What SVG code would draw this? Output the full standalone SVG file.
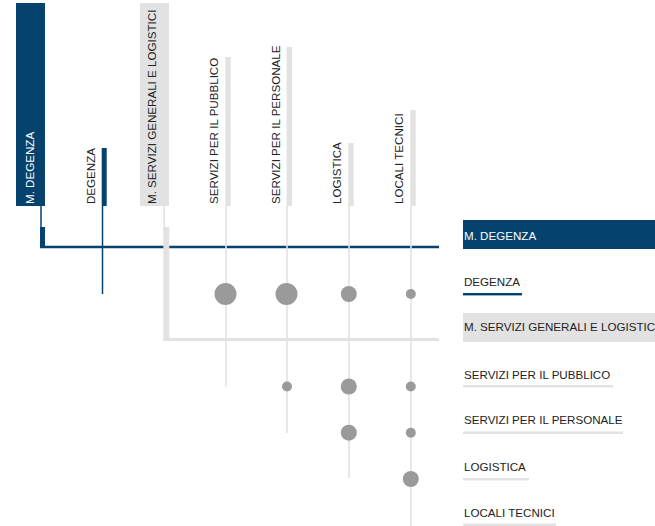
<svg xmlns="http://www.w3.org/2000/svg" width="655" height="526" viewBox="0 0 655 526">
<style>
text{font-family:"Liberation Sans",Arial,sans-serif;font-size:11.6px;fill:#222}
.w{fill:#fff}
.blue{fill:#06426e}
.gbar{fill:#e2e2e2}
.gl{stroke:#e2e2e2;fill:none}
.bl{stroke:#06426e;fill:none}
.dot{fill:#9a9a9a}
</style>
<rect width="655" height="526" fill="#fff"/>
<g id="connectors">
<!-- M. DEGENZA -->
<line class="bl" x1="41" y1="206" x2="41" y2="228" stroke-width="1.5"/>
<rect class="blue" x="40" y="227" width="5" height="20"/>
<line class="bl" x1="40" y1="247" x2="439" y2="247" stroke-width="2.6"/>
<!-- DEGENZA -->
<line class="bl" x1="102.5" y1="206" x2="102.5" y2="294" stroke-width="1.5"/>
<!-- M. SERVIZI -->
<line class="gl" x1="164.2" y1="206" x2="164.2" y2="228" stroke-width="1.5"/>
<rect class="gbar" x="163.3" y="227" width="6" height="113"/>
<line class="gl" x1="163.3" y1="339.5" x2="439" y2="339.5" stroke-width="3"/>
<!-- child columns -->
<line class="gl" x1="226" y1="206" x2="226" y2="387" stroke-width="1.6"/>
<line class="gl" x1="287" y1="206" x2="287" y2="433" stroke-width="1.6"/>
<line class="gl" x1="349" y1="206" x2="349" y2="478" stroke-width="1.6"/>
<line class="gl" x1="411" y1="206" x2="411" y2="526" stroke-width="1.6"/>
</g>
<g id="col-m-degenza">
<rect class="blue" x="16" y="3" width="29" height="203"/>
<text class="w" transform="translate(33.5,204) rotate(-90)">M. DEGENZA</text>
</g>
<g id="col-degenza">
<rect class="blue" x="101.7" y="148" width="5" height="58"/>
<text transform="translate(94.5,204) rotate(-90)">DEGENZA</text>
</g>
<g id="col-m-servizi">
<rect class="gbar" x="140" y="3" width="29" height="203"/>
<text transform="translate(156,204) rotate(-90)">M. SERVIZI GENERALI E LOGISTICI</text>
</g>
<g id="col-pubblico">
<rect class="gbar" x="225.3" y="57" width="5.4" height="149"/>
<text transform="translate(217.8,204) rotate(-90)">SERVIZI PER IL PUBBLICO</text>
</g>
<g id="col-personale">
<rect class="gbar" x="286.6" y="47" width="5.4" height="159"/>
<text transform="translate(279.5,204) rotate(-90)">SERVIZI PER IL PERSONALE</text>
</g>
<g id="col-logistica">
<rect class="gbar" x="348.3" y="143" width="5.4" height="63"/>
<text transform="translate(341,204) rotate(-90)">LOGISTICA</text>
</g>
<g id="col-locali">
<rect class="gbar" x="410.3" y="110" width="5.4" height="96"/>
<text transform="translate(402.8,204) rotate(-90)">LOCALI TECNICI</text>
</g>
<g id="row-m-degenza">
<rect class="blue" x="463" y="220" width="192" height="29"/>
<text class="w" x="464" y="239.5">M. DEGENZA</text>
</g>
<g id="row-degenza">
<text x="464" y="285.5">DEGENZA</text>
<rect class="blue" x="463" y="293" width="59" height="2.4"/>
</g>
<g id="row-m-servizi">
<rect class="gbar" x="463" y="313" width="192" height="29"/>
<text x="464" y="331">M. SERVIZI GENERALI E LOGISTICI</text>
</g>
<g id="row-pubblico">
<text x="464" y="378.5">SERVIZI PER IL PUBBLICO</text>
<rect class="gbar" x="463" y="385" width="150" height="2.4"/>
</g>
<g id="row-personale">
<text x="464" y="424">SERVIZI PER IL PERSONALE</text>
<rect class="gbar" x="463" y="431.5" width="160" height="2.4"/>
</g>
<g id="row-logistica">
<text x="464" y="470.7">LOGISTICA</text>
<rect class="gbar" x="463" y="478" width="66" height="2.4"/>
</g>
<g id="row-locali">
<text x="464" y="517">LOCALI TECNICI</text>
<rect class="gbar" x="463" y="523.5" width="93" height="2.4"/>
</g>
<g id="dots">
<circle class="dot" cx="225.5" cy="294" r="11"/>
<circle class="dot" cx="286.5" cy="294" r="11"/>
<circle class="dot" cx="348.8" cy="294" r="8"/>
<circle class="dot" cx="410.8" cy="294" r="5"/>
<circle class="dot" cx="287" cy="386.5" r="5"/>
<circle class="dot" cx="348.8" cy="386.5" r="8"/>
<circle class="dot" cx="410.8" cy="386.5" r="5"/>
<circle class="dot" cx="348.8" cy="432.7" r="8"/>
<circle class="dot" cx="410.8" cy="432.7" r="5"/>
<circle class="dot" cx="410.8" cy="479" r="8"/>
</g>
</svg>
